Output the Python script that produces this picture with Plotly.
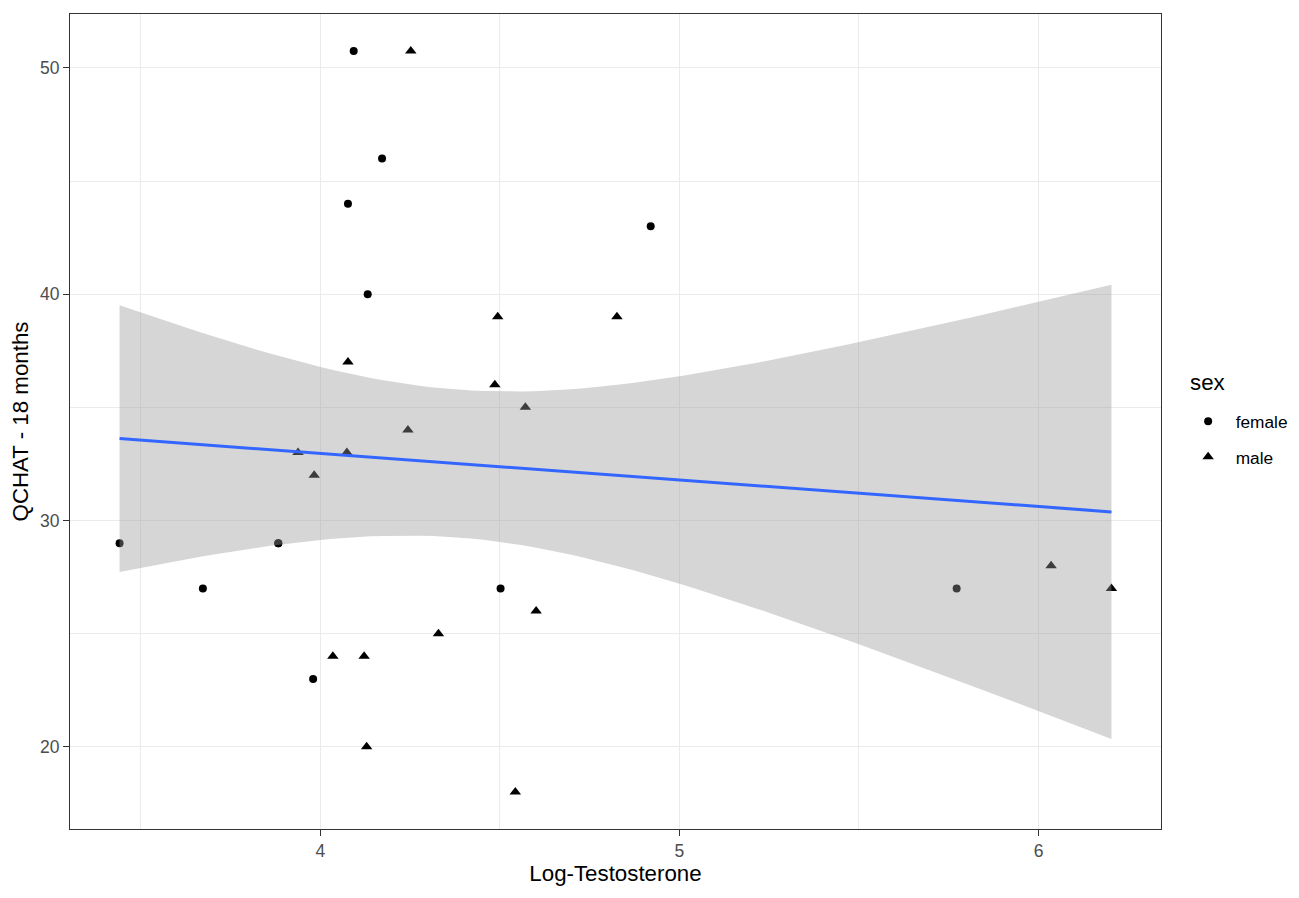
import numpy as np
import plotly.graph_objects as go

# values
female_x = [4.093, 4.172, 4.077, 4.920, 4.132, 3.441, 3.883, 3.883, 3.673, 4.502, 3.980, 5.772]
female_y = [50.75, 46, 44, 43, 40, 29, 29, 29, 27, 27, 23, 27]
male_x = [4.252, 4.494, 4.826, 4.077, 4.486, 4.571, 4.244, 3.938, 4.074, 3.983,
          4.601, 4.329, 4.035, 4.122, 4.129, 4.543, 6.035, 6.203]
male_y = [50.75, 39, 39, 37, 36, 35, 34, 33, 33, 32,
          26, 25, 24, 24, 20, 18, 28, 27]

# linear fit with 95% confidence band (like geom_smooth(method="lm"))
x_all = np.array(female_x + male_x)
y_all = np.array(female_y + male_y)
n = len(x_all)
slope, intercept = np.polyfit(x_all, y_all, 1)
resid = y_all - (intercept + slope * x_all)
s = np.sqrt(np.sum(resid**2) / (n - 2))
t_crit = 2.048  # t(0.975, df=28)
xg = np.linspace(x_all.min(), x_all.max(), 80)
yg = intercept + slope * xg
se = s * np.sqrt(1 / n + (xg - x_all.mean())**2 / np.sum((x_all - x_all.mean())**2))
upper = yg + t_crit * se
lower = yg - t_crit * se

font = "Liberation Sans, Arial, Helvetica"

fig = go.Figure()
fig.add_trace(go.Scatter(x=female_x, y=female_y, mode="markers", name="female",
                         legendgroup="f",
                         marker=dict(symbol="circle", size=8, color="black")))
fig.add_trace(go.Scatter(x=male_x, y=male_y, mode="markers", name="male",
                         legendgroup="m",
                         marker=dict(symbol="triangle-up", size=10, color="black")))
fig.add_trace(go.Scatter(x=xg, y=upper, mode="lines", line=dict(width=0),
                         showlegend=False, hoverinfo="skip"))
fig.add_trace(go.Scatter(x=xg, y=lower, mode="lines", line=dict(width=0),
                         fill="tonexty", fillcolor="rgba(153,153,153,0.4)",
                         showlegend=False, hoverinfo="skip"))
fig.add_trace(go.Scatter(x=xg, y=yg, mode="lines", line=dict(color="#3366FF", width=3),
                         showlegend=False, hoverinfo="skip"))

axis_common = dict(
    showline=True, mirror=True, linecolor="#333333", linewidth=1.2,
    ticks="outside", ticklen=6, tickcolor="#333333", tickwidth=1.2,
    showgrid=True, gridcolor="#EBEBEB", gridwidth=1.4,
    zeroline=False,
    tickfont=dict(family=font, size=17.5, color="#4D4D4D"),
)

fig.update_layout(
    width=1291, height=882,
    margin=dict(l=62, r=138, t=6, b=61, autoexpand=False),
    paper_bgcolor="white", plot_bgcolor="white",
    font=dict(family=font, color="black"),
    xaxis=dict(axis_common, range=[3.303, 6.341], tick0=0, dtick=1,
               minor=dict(showgrid=True, gridcolor="#EBEBEB", gridwidth=0.7, dtick=0.5, tick0=0),
               title=dict(text="Log-Testosterone", font=dict(size=22.3), standoff=1)),
    yaxis=dict(axis_common, range=[16.37, 52.38], tick0=0, dtick=10,
               minor=dict(showgrid=True, gridcolor="#EBEBEB", gridwidth=0.7, dtick=5, tick0=0),
               title=dict(text="QCHAT - 18 months", font=dict(size=22.3), standoff=8)),
    legend=dict(x=1.018, xanchor="left", y=0.522, yanchor="top",
                traceorder="grouped", tracegroupgap=10, itemwidth=45,
                font=dict(size=17.3), bgcolor="rgba(0,0,0,0)"),
    showlegend=True,
    annotations=[dict(text="sex", xref="paper", yref="paper", x=1.025, y=0.548,
                      xanchor="left", yanchor="middle", showarrow=False,
                      font=dict(size=22.3, color="black"))],
)

fig.write_html("out.html")
